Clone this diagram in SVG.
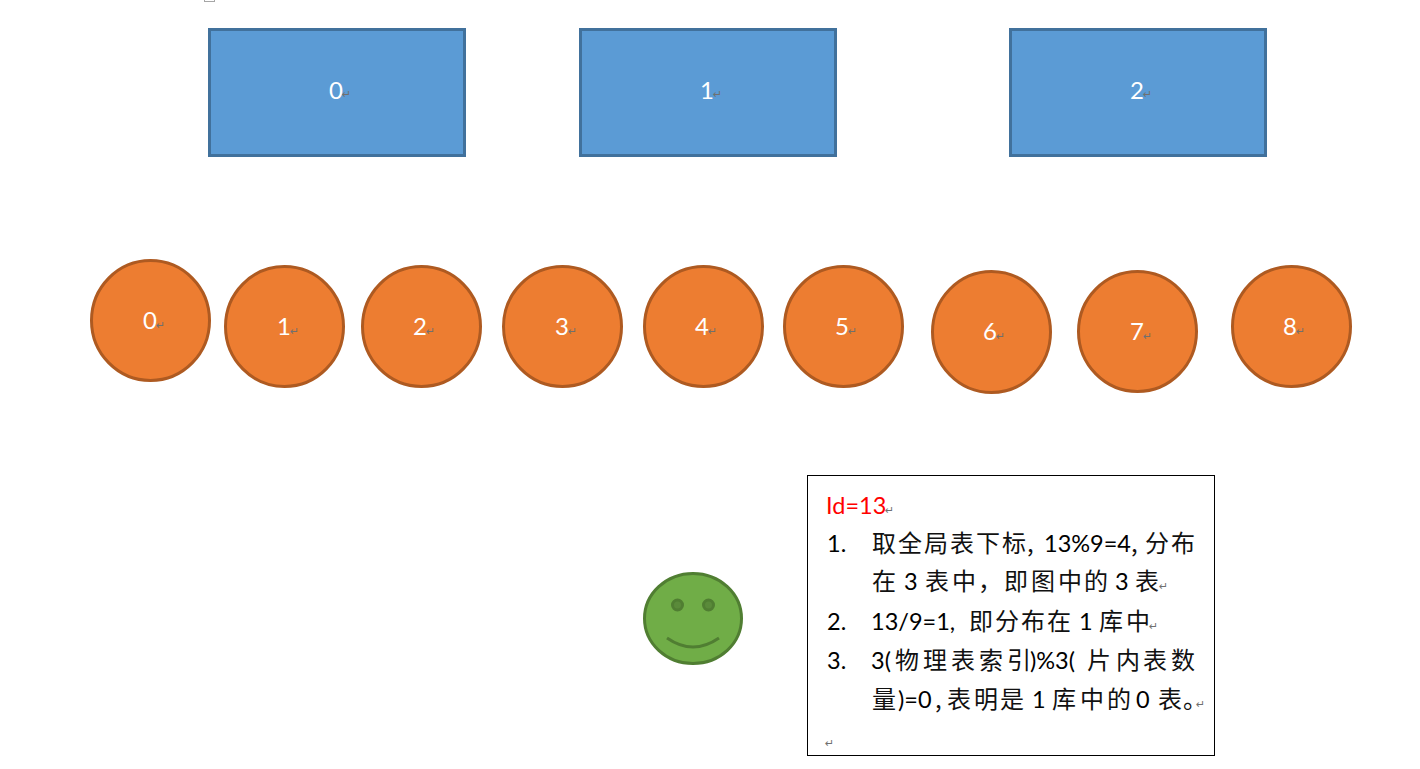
<svg xmlns="http://www.w3.org/2000/svg" width="1420" height="769" viewBox="0 0 1420 769">
<style>
.box{fill:#5b9bd5;stroke:#41719c;stroke-width:3}
.disc{fill:#ed7d31;stroke:#ae5a21;stroke-width:3}
.lbl{font-family:"Lato","Noto Sans",sans-serif;font-size:24px;fill:#fff;text-anchor:middle}
.ret{font-family:"DejaVu Sans",sans-serif;font-size:11px;fill:#707070}
.t{font-family:"Lato","Noto Sans CJK SC",sans-serif;font-size:23.500px;fill:#000}
.c{font-family:"Noto Sans CJK SC",sans-serif;font-size:24px;fill:#111}
</style>
<rect x="204.500" y="-6" width="10" height="7.500" fill="none" stroke="#a6a6a6"/>
<g id="connectors"/>
<g id="table-0"><rect class="box" x="209.500" y="29.500" width="255" height="126"/><text class="lbl" x="336" y="99">0</text><text class="ret" x="342" y="98">↵</text></g>
<g id="table-1"><rect class="box" x="580.500" y="29.500" width="255" height="126"/><text class="lbl" x="707" y="99">1</text><text class="ret" x="713" y="98">↵</text></g>
<g id="table-2"><rect class="box" x="1010.500" y="29.500" width="255" height="126"/><text class="lbl" x="1137" y="99">2</text><text class="ret" x="1143" y="98">↵</text></g>
<g id="circle-0"><ellipse class="disc" cx="150.500" cy="320.500" rx="59" ry="60"/><text class="lbl" x="150" y="329">0</text><text class="ret" x="156" y="329">↵</text></g>
<g id="circle-1"><ellipse class="disc" cx="284.500" cy="326.500" rx="59" ry="60"/><text class="lbl" x="284" y="335">1</text><text class="ret" x="290" y="335">↵</text></g>
<g id="circle-2"><ellipse class="disc" cx="421.500" cy="326.500" rx="59" ry="60"/><text class="lbl" x="420" y="335">2</text><text class="ret" x="426" y="335">↵</text></g>
<g id="circle-3"><ellipse class="disc" cx="562.500" cy="326.500" rx="59" ry="60"/><text class="lbl" x="562" y="335">3</text><text class="ret" x="568" y="335">↵</text></g>
<g id="circle-4"><ellipse class="disc" cx="703.500" cy="326.500" rx="59" ry="60"/><text class="lbl" x="702" y="335">4</text><text class="ret" x="708" y="335">↵</text></g>
<g id="circle-5"><ellipse class="disc" cx="843.500" cy="326.500" rx="59" ry="60"/><text class="lbl" x="842" y="335">5</text><text class="ret" x="848" y="335">↵</text></g>
<g id="circle-6"><ellipse class="disc" cx="991.500" cy="332" rx="59" ry="60.500"/><text class="lbl" x="990" y="340">6</text><text class="ret" x="996" y="340">↵</text></g>
<g id="circle-7"><ellipse class="disc" cx="1137.500" cy="331.500" rx="59" ry="60"/><text class="lbl" x="1137" y="340">7</text><text class="ret" x="1143" y="340">↵</text></g>
<g id="circle-8"><ellipse class="disc" cx="1291.500" cy="326.500" rx="59" ry="60"/><text class="lbl" x="1290" y="335">8</text><text class="ret" x="1296" y="335">↵</text></g>
<g id="smiley">
<ellipse cx="693" cy="618.500" rx="48.500" ry="45" fill="#70ad47" stroke="#507e32" stroke-width="3"/>
<circle cx="677.500" cy="605" r="5" fill="#5a8a3a" stroke="#507e32" stroke-width="3"/>
<circle cx="708.500" cy="605" r="5" fill="#5a8a3a" stroke="#507e32" stroke-width="3"/>
<path d="M667 638Q693 656 719 638" fill="none" stroke="#507e32" stroke-width="3"/>
</g>
<g id="note">
<rect x="807.500" y="475.500" width="407" height="280" fill="#fff" stroke="#000"/>
<text class="t" x="826" y="514" style="fill:#f00">Id=13</text><text class="ret" x="885" y="514">↵</text>
<text class="t" x="827" y="552">1.</text>
<text class="c" x="872 898 924 950 976 1002" y="552">取全局表下标</text>
<text class="c" x="1027" y="552">,</text>
<text class="t" x="1044" y="552">13%9=4</text>
<text class="c" x="1131" y="552">,</text>
<text class="c" x="1145 1171" y="552">分布</text>
<text class="c" x="872" y="590">在</text>
<text class="t" x="904" y="590">3</text>
<text class="c" x="925 952 978 1004 1031 1058 1084" y="590">表中，即图中的</text>
<text class="t" x="1115" y="590">3</text>
<text class="c" x="1135" y="590">表</text><text class="ret" x="1159" y="590">↵</text>
<text class="t" x="827" y="630">2.</text>
<text class="t" x="871" y="630">13/9=1,</text>
<text class="c" x="969 995 1021 1047" y="630">即分布在</text>
<text class="t" x="1079" y="630">1</text>
<text class="c" x="1099 1126" y="630">库中</text><text class="ret" x="1149" y="630">↵</text>
<text class="t" x="827" y="669">3.</text>
<text class="t" x="871" y="669">3(</text>
<text class="c" x="895 923 951 979 1007" y="669">物理表索引</text>
<text class="t" x="1030" y="669">)%3(</text>
<text class="c" x="1087 1116 1143 1171" y="669">片内表数</text>
<text class="c" x="872" y="708">量</text>
<text class="t" x="898" y="708">)=0</text>
<text class="c" x="935" y="708">,</text>
<text class="c" x="947 974 1000" y="708">表明是</text>
<text class="t" x="1032" y="708">1</text>
<text class="c" x="1052 1080 1107" y="708">库中的</text>
<text class="t" x="1136" y="708">0</text>
<text class="c" x="1158 1183" y="708">表。</text><text class="ret" x="1196" y="708">↵</text>
<text class="ret" x="825" y="747">↵</text>
</g>
</svg>
